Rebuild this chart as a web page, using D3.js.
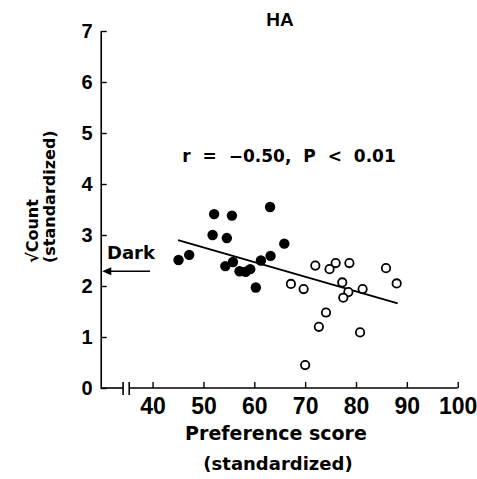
<!DOCTYPE html>
<html>
<head>
<meta charset="utf-8">
<script src="https://cdn.jsdelivr.net/npm/d3@7"></script>
<style>
  body { margin: 0; background: #fff; }
  svg { display: block; }
</style>
</head>
<body>
<script>
// data (HA group)
var filledX = [45.1, 47.2, 52.1, 55.6, 51.8, 54.6, 63.1, 65.9, 63.2, 61.3, 54.3, 55.8, 57.1, 58.3, 59.2, 60.3]
var filledY = [2.51, 2.61, 3.41, 3.38, 3.00, 2.94, 3.55, 2.83, 2.59, 2.50, 2.39, 2.47, 2.29, 2.28, 2.33, 1.97]
var openX = [72.0, 74.8, 76.0, 78.7, 85.9, 88.0, 67.2, 69.7, 77.3, 78.5, 81.3, 77.5, 74.1, 72.7, 80.8, 70.0]
var openY = [2.40, 2.33, 2.45, 2.45, 2.35, 2.05, 2.04, 1.94, 2.07, 1.88, 1.94, 1.77, 1.48, 1.20, 1.09, 0.45]
var fitX = [45.0, 88.2]
var fitY = [2.90, 1.66]
var darkY = 2.29
var xTicks = [40, 50, 60, 70, 80, 90, 100]
var yTicks = [0, 1, 2, 3, 4, 5, 6, 7]
var xStart = 29.8            // where the y axis crosses
var xBreak = [34.2, 35.4]    // axis break marks

var width = 477, height = 479
var svg = d3.select('body').append('svg').attr('width', width).attr('height', height)

var xScale = d3.scaleLinear().domain([40, 100]).range([152.6, 457.7])
var yScale = d3.scaleLinear().domain([0, 7]).range([388, 31])

var tickFont = 'Liberation Sans, Arial, sans-serif'
var labelFont = 'DejaVu Sans, sans-serif'

// y axis
var yAxis = d3.axisLeft(yScale).tickValues(yTicks).tickFormat(d3.format('d'))
    .tickSizeInner(-6).tickSizeOuter(0).tickPadding(8)
var gy = svg.append('g').attr('transform', `translate(${xScale(xStart)},0)`).call(yAxis)
gy.select('.domain').attr('stroke-width', 1.6)
gy.selectAll('.tick line').attr('stroke-width', 1.4)
gy.selectAll('text').attr('font-family', tickFont).attr('font-weight', 'bold').attr('font-size', 20).attr('fill', '#000')

// x axis
var xAxis = d3.axisBottom(xScale).tickValues(xTicks).tickFormat(d3.format('d'))
    .tickSizeInner(-6).tickSizeOuter(0).tickPadding(10)
var gx = svg.append('g').attr('transform', `translate(0,${yScale(0)})`).call(xAxis)
gx.select('.domain').remove()
gx.selectAll('.tick line').attr('stroke-width', 1.4)
gx.selectAll('text').attr('font-family', tickFont).attr('font-weight', 'bold').attr('font-size', 23).attr('fill', '#000')

// axis line with a break
var segs = [[xStart, xBreak[0]], [xBreak[1], 100]]
svg.selectAll('.xseg').data(segs).enter().append('line')
    .attr('x1', d => xScale(d[0])).attr('x2', d => xScale(d[1]))
    .attr('y1', yScale(0)).attr('y2', yScale(0))
    .attr('stroke', '#000').attr('stroke-width', 1.6)
svg.selectAll('.brk').data(xBreak).enter().append('line')
    .attr('x1', d => xScale(d)).attr('x2', d => xScale(d))
    .attr('y1', yScale(0) - 6).attr('y2', yScale(0) + 7)
    .attr('stroke', '#000').attr('stroke-width', 1.6)

// regression line
svg.append('line')
    .attr('x1', xScale(fitX[0])).attr('y1', yScale(fitY[0]))
    .attr('x2', xScale(fitX[1])).attr('y2', yScale(fitY[1]))
    .attr('stroke', '#000').attr('stroke-width', 2)

// points
svg.selectAll('.filled').data(filledX).enter().append('circle')
    .attr('cx', d => xScale(d)).attr('cy', (d, i) => yScale(filledY[i]))
    .attr('r', 5.2).attr('fill', '#000')
svg.selectAll('.open').data(openX).enter().append('circle')
    .attr('cx', d => xScale(d)).attr('cy', (d, i) => yScale(openY[i]))
    .attr('r', 4.2).attr('fill', '#fff').attr('stroke', '#000').attr('stroke-width', 1.8)

// Dark arrow
var ay = yScale(darkY)
var tip = xScale(xStart) + 1.5
svg.append('line').attr('x1', xScale(39.5)).attr('x2', tip + 6).attr('y1', ay).attr('y2', ay)
    .attr('stroke', '#000').attr('stroke-width', 1.6)
svg.append('path').attr('d', `M${tip},${ay}L${tip + 9},${ay - 4}L${tip + 9},${ay + 4}Z`).attr('fill', '#000')
svg.append('text').text('Dark').attr('x', 107).attr('y', 259)
    .attr('font-family', labelFont).attr('font-weight', 'bold').attr('font-size', 18)

// texts
svg.append('text').text('HA').attr('x', 280).attr('y', 26).attr('text-anchor', 'middle')
    .attr('font-family', tickFont).attr('font-weight', 'bold').attr('font-size', 19)
svg.append('text').text('r = \u22120.50, P < 0.01').attr('x', 289).attr('y', 162).attr('text-anchor', 'middle')
    .attr('font-family', labelFont).attr('font-weight', 'bold').attr('font-size', 17).style('word-spacing', '6px')
svg.append('text').text('Preference score').attr('x', 276).attr('y', 440).attr('text-anchor', 'middle')
    .attr('font-family', labelFont).attr('font-weight', 'bold').attr('font-size', 19)
svg.append('text').text('(standardized)').attr('x', 278).attr('y', 470).attr('text-anchor', 'middle')
    .attr('font-family', labelFont).attr('font-weight', 'bold').attr('font-size', 18)
svg.append('text').text('\u221aCount').attr('transform', 'translate(38,263) rotate(-90)')
    .attr('font-family', labelFont).attr('font-weight', 'bold').attr('font-size', 16)
svg.append('text').text('(standardized)').attr('transform', 'translate(55,263) rotate(-90)')
    .attr('font-family', labelFont).attr('font-weight', 'bold').attr('font-size', 16)
</script>
</body>
</html>
